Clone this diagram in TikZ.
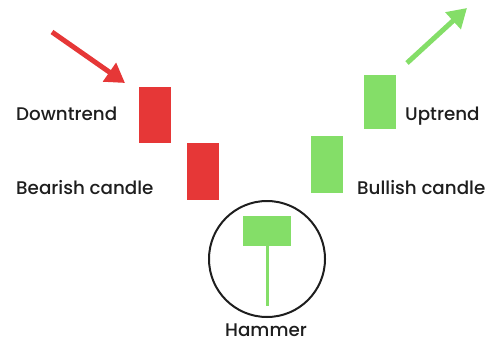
\documentclass[tikz,border=0pt]{standalone}
\usepackage{fontspec}
\setmainfont{Poppins}[UprightFont={Poppins Medium}]
\usetikzlibrary{arrows.meta}
\definecolor{bearred}{RGB}{230,55,55}
\definecolor{bullgreen}{RGB}{132,222,104}
\definecolor{inkdark}{RGB}{30,30,30}
\begin{document}
\begin{tikzpicture}[x=1pt,y=-1pt,
  candle/.style={draw=none,minimum width=32pt,inner sep=0pt},
  label/.style={text=inkdark,font=\fontsize{18.3}{20}\selectfont,inner sep=0pt},
  trend/.style={line width=5pt,-{Triangle[length=19pt,width=22pt]}}]
\useasboundingbox (0,0) rectangle (494,342);
% bearish candles
\node[candle,fill=bearred,minimum height=56pt] (r1) at (155,115) {};
\node[candle,fill=bearred,minimum height=57pt] (r2) at (203,171.5) {};
% bullish candles
\node[candle,fill=bullgreen,minimum height=57pt] (g1) at (326.5,164.5) {};
\node[candle,fill=bullgreen,minimum height=54pt] (g2) at (379.5,102) {};
% trend arrows
\coordinate (rs) at (52,32);
\coordinate (re) at (125,83);
\draw[trend,draw=bearred,fill=bearred] (rs) -- (re);
\coordinate (gs) at (407,63);
\coordinate (ge) at (467,8);
\draw[trend,draw=bullgreen,fill=bullgreen] (gs) -- (ge);
% hammer
\node[draw=inkdark,line width=2pt,circle,minimum size=116pt,inner sep=0pt] (ring) at (267,259) {};
\node[candle,fill=bullgreen,minimum width=48pt,minimum height=30pt] (hb) at (267,231) {};
\coordinate (wick) at (267,306);
\draw[bullgreen,line width=3pt] (hb.south) -- (wick);
% labels
\node[label,anchor=base west] (ld) at (16,120) {Downtrend};
\node[label,anchor=base west] (lb) at (16,194) {Bearish candle};
\node[label,anchor=base west] (lu) at (405,120) {Uptrend};
\node[label,anchor=base west] (lc) at (357,194) {Bullish candle};
\node[label,anchor=base] (lh) at (266,336.5) {Hammer};
\end{tikzpicture}
\end{document}
